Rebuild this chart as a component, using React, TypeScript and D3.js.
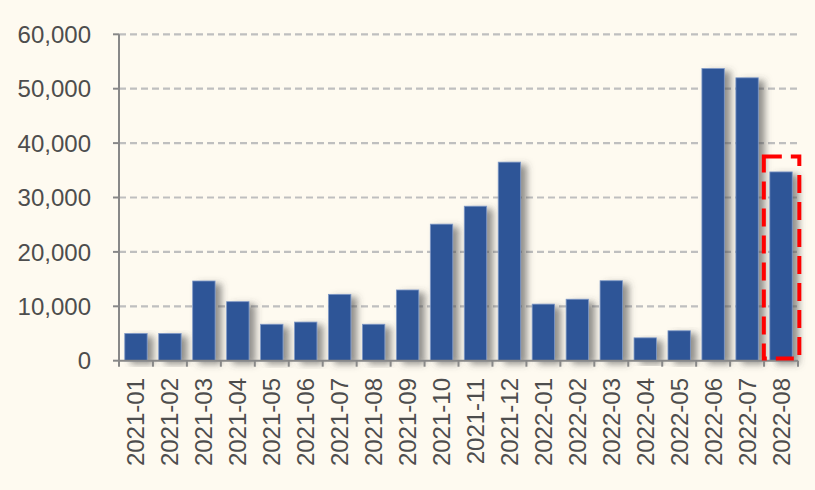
import React from "react";
import * as d3 from "d3";

const categories = [
  "2021-01","2021-02","2021-03","2021-04","2021-05","2021-06","2021-07","2021-08","2021-09","2021-10","2021-11","2021-12",
  "2022-01","2022-02","2022-03","2022-04","2022-05","2022-06","2022-07","2022-08",
];
const values = [
  5000, 5000, 14650, 10850, 6700, 7100, 12200, 6700, 13000, 25100, 28400, 36500,
  10400, 11300, 14700, 4200, 5500, 53700, 52000, 34700,
];
const yTicks = [0, 10000, 20000, 30000, 40000, 50000, 60000];
const highlighted = "2022-08";

export default function App() {
  const W = 815, H = 490;
  const left = 119, right = 798, top = 34.3, bottom = 360.7;
  const x = d3.scaleBand<string>().domain(categories).range([left, right]).paddingInner(0.34).paddingOuter(0.17);
  const y = d3.scaleLinear().domain([0, 60000]).range([bottom, top]);
  const fmt = d3.format(",");
  const step = x.step();
  const hx = x(highlighted) as number;
  return (
    <svg width={W} height={H} style={{ position: "absolute", left: 0, top: 0, background: "#FEFAF0" }}>
      <defs>
        <filter id="sh" x="-30%" y="-10%" width="200%" height="130%">
          <feDropShadow dx="6" dy="3" stdDeviation="3.5" floodColor="#4a4a4a" floodOpacity="0.6" />
        </filter>
      </defs>
      <rect x={0} y={0} width={W} height={H} fill="#FEFAF0" />
      {yTicks.filter((t) => t > 0).map((t) => (
        <line key={t} x1={left} x2={right} y1={y(t)} y2={y(t)} stroke="#BFBFBF" strokeWidth={2.2} strokeDasharray="7,4" />
      ))}
      {categories.map((c, i) => (
        <rect key={c} x={x(c)} y={y(values[i])} width={x.bandwidth()} height={bottom - y(values[i])}
          fill="#2F5597" stroke="#7E98C6" strokeWidth={0.8} filter="url(#sh)" />
      ))}
      <line x1={left} x2={left} y1={top} y2={bottom} stroke="#888" strokeWidth={2} />
      <line x1={left} x2={right} y1={bottom} y2={bottom} stroke="#888" strokeWidth={2} />
      {yTicks.map((t) => (
        <g key={t}>
          <line x1={left - 6} x2={left} y1={y(t)} y2={y(t)} stroke="#888" strokeWidth={2} />
          <text x={91} y={y(t)} dy="0.36em" textAnchor="end" fontFamily="Liberation Sans, Arial, sans-serif" fontSize={24} fill="#4D4D4D">{fmt(t)}</text>
        </g>
      ))}
      {d3.range(categories.length + 1).map((i) => (
        <line key={i} x1={left + i * step} x2={left + i * step} y1={bottom} y2={bottom + 6} stroke="#888" strokeWidth={2} />
      ))}
      {categories.map((c) => {
        const cx = (x(c) as number) + x.bandwidth() / 2;
        return (
          <text key={c} transform={`translate(${cx + 8.5},378) rotate(-90)`} textAnchor="end"
            fontFamily="Liberation Sans, Arial, sans-serif" fontSize={24} fill="#4D4D4D">{c}</text>
        );
      })}
      <rect x={hx - 6} y={156.5} width={35.5} height={202} fill="none" stroke="#FF0000" strokeWidth={4} strokeDasharray="18,9" />
    </svg>
  );
}
